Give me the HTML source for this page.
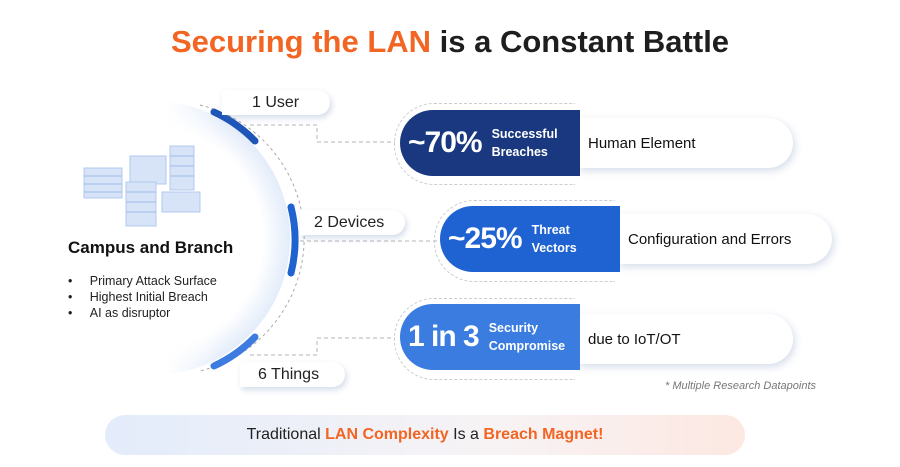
<!DOCTYPE html>
<html><head><meta charset="utf-8"><style>
body{margin:0;width:900px;height:467px;background:#fff;font-family:"Liberation Sans",sans-serif;position:relative;overflow:hidden}
.a{position:absolute}
.t{left:0;width:900px;top:24px;text-align:center;font-size:31px;font-weight:bold;color:#1e1e1e}
.o{color:#f26522}
.lab{background:#fff;border-radius:0 14px 14px 0;box-shadow:2px 3px 6px rgba(90,120,170,.25);font-size:16px;color:#222;padding-left:30px;box-sizing:border-box;line-height:25px;height:25px}
.pill{height:66px;border-radius:33px 0 0 33px;color:#fff;display:flex;align-items:center;box-sizing:border-box;padding-left:8px}
.big{font-size:30px;font-weight:bold;margin-right:10px;letter-spacing:-1px}
.sm{font-size:12.5px;font-weight:bold;line-height:18px}
.card{background:#fff;border-radius:0 26px 26px 0;box-shadow:2px 3px 8px rgba(90,120,170,.25);font-size:15px;color:#111;display:flex;align-items:center;padding-left:10px;box-sizing:border-box;height:50px}
.ring{border:1.5px dashed #c8ccd4;border-radius:40px 0 0 40px;border-right:none}
</style></head><body>
<div class="a t"><span class="o">Securing the LAN</span> is a Constant Battle</div>

<svg class="a" style="left:0;top:0" width="900" height="467">
<defs><radialGradient id="g" cx="0.5" cy="0.5" r="0.5"><stop offset="0.8" stop-color="#fff"/><stop offset="1" stop-color="#e3ecfa"/></radialGradient>
<linearGradient id="m" x1="0" x2="1"><stop offset="0.55" stop-color="#fff" stop-opacity="1"/><stop offset="0.75" stop-color="#fff" stop-opacity="0"/></linearGradient></defs>
<circle cx="153" cy="238" r="137" fill="url(#g)"/>
<rect x="0" y="90" width="300" height="300" fill="url(#m)"/>
<path d="M200 105 A137 137 0 0 1 200 371" fill="none" stroke="#aaa" stroke-dasharray="3 3" stroke-width="1"/>
<path d="M214 112 A137 137 0 0 1 255 141" stroke="#1e56b8" stroke-width="7" fill="none" stroke-linecap="round"/>
<path d="M291 207 A137 137 0 0 1 291 273" stroke="#1e63d0" stroke-width="7" fill="none" stroke-linecap="round"/>
<path d="M214 366 A137 137 0 0 0 255 337" stroke="#3d7be0" stroke-width="7" fill="none" stroke-linecap="round"/>
<g stroke="#b5b5b5" stroke-dasharray="4 3" fill="none" stroke-width="1">
<path d="M250 125 H317 V142 H395"/>
<path d="M300 241 H437"/>
<path d="M250 355 H317 V338 H395"/>
</g>
<g fill="#d7e4f7" stroke="#b3c9ec" stroke-width="1">
<rect x="84" y="168" width="38" height="30"/><rect x="130" y="156" width="36" height="28"/>
<rect x="170" y="146" width="24" height="44"/><rect x="126" y="182" width="30" height="44"/>
<rect x="162" y="192" width="38" height="20"/>
</g>
<g stroke="#9fbde8" stroke-width="1">
<path d="M84 176H122M84 184H122M84 192H122M126 192H156M126 202H156M126 212H156M170 156H194M170 166H194M170 176H194"/>
</g>
</svg>

<div class="a" style="left:68px;top:238px;font-size:17px;font-weight:bold;color:#111">Campus and Branch</div>
<div class="a" style="left:68px;top:273px;font-size:12.5px;color:#222;line-height:16px">
<div>•&nbsp;&nbsp;&nbsp;&nbsp;&nbsp;Primary Attack Surface</div><div>•&nbsp;&nbsp;&nbsp;&nbsp;&nbsp;Highest Initial Breach</div><div>•&nbsp;&nbsp;&nbsp;&nbsp;&nbsp;AI as disruptor</div></div>

<div class="a lab" style="left:222px;top:90px;width:108px">1 User</div>
<div class="a lab" style="left:300px;top:210px;width:105px;padding-left:14px">2 Devices</div>
<div class="a lab" style="left:240px;top:362px;width:105px;padding-left:18px">6 Things</div>

<div class="a ring" style="left:394px;top:103px;width:180px;height:80px"></div>
<div class="a ring" style="left:434px;top:200px;width:180px;height:80px"></div>
<div class="a ring" style="left:394px;top:298px;width:180px;height:80px"></div>

<div class="a card" style="left:578px;top:118px;width:215px">Human Element</div>
<div class="a pill" style="left:400px;top:110px;width:180px;background:#19387f"><span class="big">~70%</span><span class="sm">Successful<br>Breaches</span></div>
<div class="a card" style="left:618px;top:214px;width:214px">Configuration and Errors</div>
<div class="a pill" style="left:440px;top:206px;width:180px;background:#1f62d2"><span class="big">~25%</span><span class="sm">Threat<br>Vectors</span></div>
<div class="a card" style="left:578px;top:314px;width:215px">due to IoT/OT</div>
<div class="a pill" style="left:400px;top:304px;width:180px;background:#3b7ce0"><span class="big">1 in 3</span><span class="sm">Security<br>Compromise</span></div>

<div class="a" style="left:665px;top:380px;font-size:11px;font-style:italic;color:#777">* Multiple Research Datapoints</div>

<div class="a" style="left:105px;top:415px;width:640px;height:40px;border-radius:20px;background:linear-gradient(90deg,#e3ecfb,#f7f3f5 60%,#fde8e2);text-align:center;line-height:40px;font-size:16px;color:#222">Traditional <b class="o">LAN Complexity</b> Is a <b class="o">Breach Magnet!</b></div>
</body></html>
